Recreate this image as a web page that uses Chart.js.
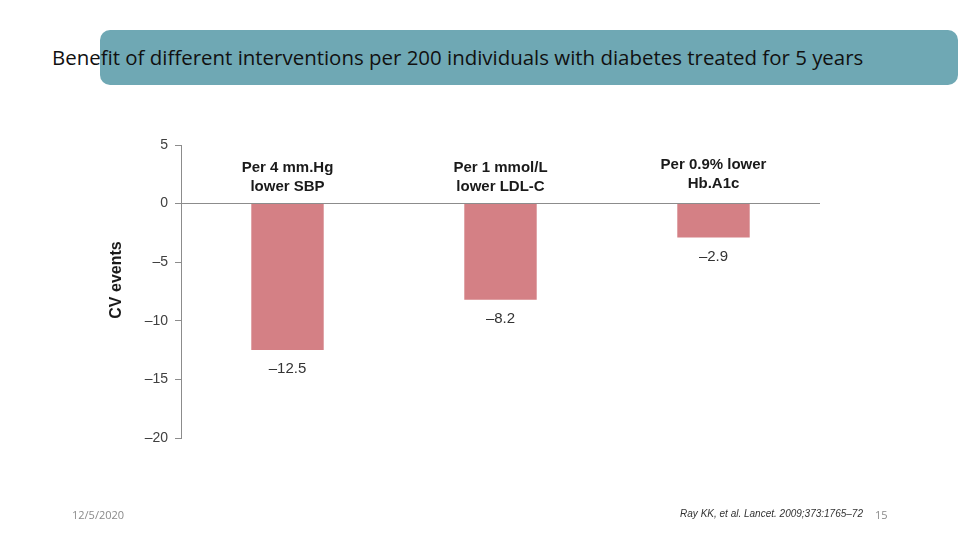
<!DOCTYPE html>
<html><head><meta charset="utf-8">
<script src="https://cdn.jsdelivr.net/npm/chart.js@4.4.1/dist/chart.umd.min.js"></script>
<style>
html,body{margin:0;padding:0;background:#fff;}
#wrap{position:relative;width:960px;height:540px;overflow:hidden;}
#banner{position:absolute;left:100px;top:30px;width:858px;height:55px;background:#6FA8B4;border-radius:10px;}
#title{position:absolute;left:52px;top:44px;font-family:"Open Sans",sans-serif;font-size:19px;color:#111;white-space:nowrap;line-height:26px;}
#date{position:absolute;left:72px;top:507px;font-family:"Open Sans",sans-serif;font-size:11px;color:#8a8a8a;}
#ref{position:absolute;left:520px;width:343px;text-align:right;top:508px;font-family:"Liberation Sans",Arial,sans-serif;font-style:italic;font-size:10px;color:#333;}
#page{position:absolute;left:875px;top:507px;font-family:"Open Sans",sans-serif;font-size:11px;color:#8a8a8a;}
canvas{position:absolute;left:0;top:0;}
</style></head>
<body><div id="wrap">
<div id="banner"></div>
<div id="title">Benefit of different interventions per 200 individuals with diabetes treated for 5 years</div>
<canvas id="c" width="960" height="540"></canvas>
<div id="date">12/5/2020</div>
<div id="ref">Ray KK, et al. Lancet. 2009;373:1765–72</div>
<div id="page">15</div>
</div>
<script>
const categories = ["SBP", "LDL-C", "HbA1c"];
const categoryLines = [["Per 4 mm.Hg", "lower SBP"], ["Per 1 mmol/L", "lower LDL-C"], ["Per 0.9% lower", "Hb.A1c"]];
const cvEvents = [-12.5, -8.2, -2.9];
const yTicks = [5, 0, -5, -10, -15, -20];
const yAxisTitle = "CV events";

// fit title width
const t = document.getElementById('title');
let fs = 19; t.style.fontSize = fs + 'px';
const target = 812;
fs = fs * target / t.getBoundingClientRect().width;
t.style.fontSize = fs + 'px';

const fmt = v => v < 0 ? '\u2013' + Math.abs(v) : String(v);

const labelPlugin = {
  id: 'labels',
  afterDatasetsDraw(chart) {
    const ctx = chart.ctx, x = chart.scales.x, y = chart.scales.y;
    const y0 = y.getPixelForValue(0);
    ctx.save();
    ctx.textAlign = 'center';
    ctx.textBaseline = 'middle';
    categoryLines.forEach((lines, i) => {
      const cx = x.getPixelForValue(i);
      ctx.font = 'bold 15px "Liberation Sans", Arial, sans-serif';
      ctx.fillStyle = '#1a1a1a';
      const n = lines.length;
      const lift = i === categoryLines.length - 1 ? 3 : 0;
      lines.forEach((ln, k) => ctx.fillText(ln, cx, y0 - 17 - lift - (n - 1 - k) * 19));
    });
    cvEvents.forEach((v, i) => {
      const cx = x.getPixelForValue(i);
      const yb = y.getPixelForValue(v);
      ctx.font = '15px "Liberation Sans", Arial, sans-serif';
      ctx.fillStyle = '#333';
      ctx.fillText(fmt(v), cx, yb + 19);
    });
    // y axis title
    ctx.translate(117, 280);
    ctx.rotate(-Math.PI / 2);
    ctx.font = 'bold 16px "Liberation Sans", Arial, sans-serif';
    ctx.fillStyle = '#1a1a1a';
    ctx.fillText(yAxisTitle, 0, 0);
    ctx.restore();
  }
};

new Chart(document.getElementById('c'), {
  type: 'bar',
  data: {
    labels: categories,
    datasets: [{ data: cvEvents, backgroundColor: '#D48085', borderWidth: 0,
      categoryPercentage: 1, barPercentage: 0.34 }]
  },
  options: {
    responsive: false, animation: false,
    layout: { padding: { left: 105, right: 140, top: 145, bottom: 102 } },
    plugins: { legend: { display: false }, tooltip: { enabled: false } },
    scales: {
      x: { display: false },
      y: {
        min: Math.min(...yTicks), max: Math.max(...yTicks),
        afterFit(s) { s.width = 76; },
        afterBuildTicks(s) { s.ticks = yTicks.slice().reverse().map(v => ({ value: v })); },
        ticks: { callback: fmt, color: '#404040', padding: 7,
          font: { family: '"Liberation Sans", Arial, sans-serif', size: 14 } },
        grid: { drawOnChartArea: true, tickLength: 6, tickColor: '#8c8c8c',
          color: c => (c.tick && c.tick.value === 0) ? '#8c8c8c' : 'rgba(0,0,0,0)' },
        border: { display: true, color: '#8c8c8c' }
      }
    }
  },
  plugins: [labelPlugin]
});
</script>
</body></html>
